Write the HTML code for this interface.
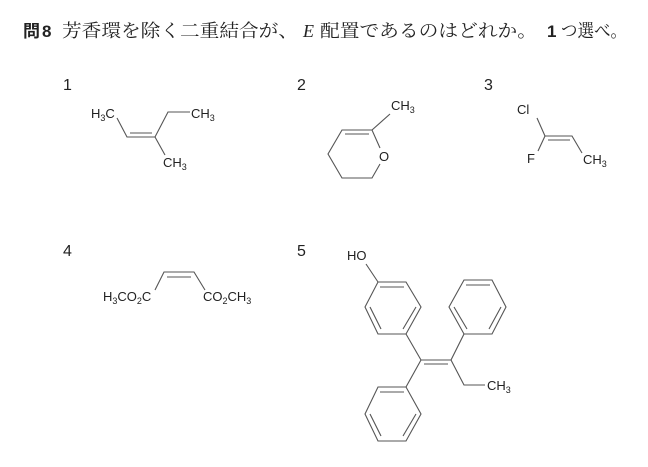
<!DOCTYPE html>
<html><head><meta charset="utf-8"><style>
html,body{margin:0;padding:0;background:#fff;}
svg{display:block;}
text{font-family:"Liberation Sans","Noto Sans CJK JP",sans-serif;fill:#222;}
.t{font-family:"Liberation Serif","Noto Serif CJK SC","Noto Sans CJK JP",serif;font-size:18px;}
.m{font-size:13px;}
.n{font-size:16px;}
line,polyline,polygon{stroke:#555;stroke-width:1.1;fill:none;}
</style></head><body>
<svg width="648" height="467" viewBox="0 0 648 467" xmlns="http://www.w3.org/2000/svg">
<rect width="648" height="467" fill="#fff"/>
<!-- title -->
<text x="23" y="37" style="font-family:'Liberation Sans','Noto Sans CJK JP',sans-serif;font-size:17px;font-weight:bold">問</text>
<text x="42" y="37" style="font-family:'Liberation Sans',sans-serif;font-size:17px;font-weight:bold">8</text>
<text class="t" x="62" y="37" textLength="236" lengthAdjust="spacingAndGlyphs">芳香環を除く二重結合が、</text>
<text class="t" x="303" y="37" font-style="italic">E</text>
<text class="t" x="320" y="37" textLength="217" lengthAdjust="spacingAndGlyphs">配置であるのはどれか。</text>
<text x="547" y="37" style="font-family:'Liberation Sans','Noto Sans CJK JP',sans-serif;font-size:17px;font-weight:bold">1</text>
<text class="t" x="561" y="37" textLength="66" lengthAdjust="spacingAndGlyphs">つ選べ。</text>

<!-- labels -->
<text class="n" x="63" y="90">1</text>
<text class="n" x="297" y="90">2</text>
<text class="n" x="484" y="90">3</text>
<text class="n" x="63" y="256">4</text>
<text class="n" x="297" y="256">5</text>

<!-- mol 1 -->
<text class="m" x="91" y="118">H<tspan font-size="9" dy="3">3</tspan><tspan dy="-3">C</tspan></text>
<text class="m" x="191" y="118">CH<tspan font-size="9" dy="3">3</tspan></text>
<text class="m" x="163" y="167">CH<tspan font-size="9" dy="3">3</tspan></text>
<polyline points="117,118 127,137 155,137 168,112 190,112"/>
<line x1="130" y1="133" x2="152" y2="133"/>
<line x1="155" y1="137" x2="165" y2="155"/>

<!-- mol 2 -->
<polyline points="380,148 372,130 342,130 328,154 342,178 372,178 380,164"/>
<line x1="345" y1="134" x2="369" y2="134"/>
<line x1="372" y1="130" x2="390" y2="114"/>
<text class="m" x="379" y="161">O</text>
<text class="m" x="391" y="110">CH<tspan font-size="9" dy="3">3</tspan></text>

<!-- mol 3 -->
<text class="m" x="517" y="114">Cl</text>
<text class="m" x="527" y="163">F</text>
<text class="m" x="583" y="164">CH<tspan font-size="9" dy="3">3</tspan></text>
<line x1="537" y1="118" x2="545" y2="136"/>
<line x1="545" y1="136" x2="538" y2="151"/>
<polyline points="545,136 572,136 582,153"/>
<line x1="548" y1="140" x2="570" y2="140"/>

<!-- mol 4 -->
<text class="m" x="103" y="301">H<tspan font-size="9" dy="3">3</tspan><tspan dy="-3">CO</tspan><tspan font-size="9" dy="3">2</tspan><tspan dy="-3">C</tspan></text>
<text class="m" x="203" y="301">CO<tspan font-size="9" dy="3">2</tspan><tspan dy="-3">CH</tspan><tspan font-size="9" dy="3">3</tspan></text>
<polyline points="155,290 164,272 194,272 205,290"/>
<line x1="167" y1="277" x2="191" y2="277"/>

<!-- mol 5 -->
<text class="m" x="347" y="260">HO</text>
<line x1="366" y1="264" x2="378" y2="282"/>
<polygon points="378,282 406,282 421,307 406,334 378,334 365,307"/>
<line x1="380" y1="287" x2="404" y2="287"/>
<line x1="416" y1="307" x2="403" y2="329"/>
<line x1="370" y1="307" x2="381" y2="329"/>
<line x1="406" y1="334" x2="421" y2="360"/>
<line x1="421" y1="360" x2="451" y2="360"/>
<line x1="424" y1="364" x2="448" y2="364"/>
<line x1="451" y1="360" x2="464" y2="334"/>
<polygon points="464,280 492,280 506,307 492,334 464,334 449,307"/>
<line x1="466" y1="285" x2="490" y2="285"/>
<line x1="501" y1="307" x2="489" y2="329"/>
<line x1="454" y1="307" x2="467" y2="329"/>
<polyline points="451,360 464,385 485,385"/>
<text class="m" x="487" y="390">CH<tspan font-size="9" dy="3">3</tspan></text>
<line x1="421" y1="360" x2="406" y2="387"/>
<polygon points="378,387 406,387 421,414 406,441 378,441 365,414"/>
<line x1="380" y1="392" x2="404" y2="392"/>
<line x1="416" y1="414" x2="403" y2="436"/>
<line x1="370" y1="414" x2="381" y2="436"/>
</svg>
</body></html>
